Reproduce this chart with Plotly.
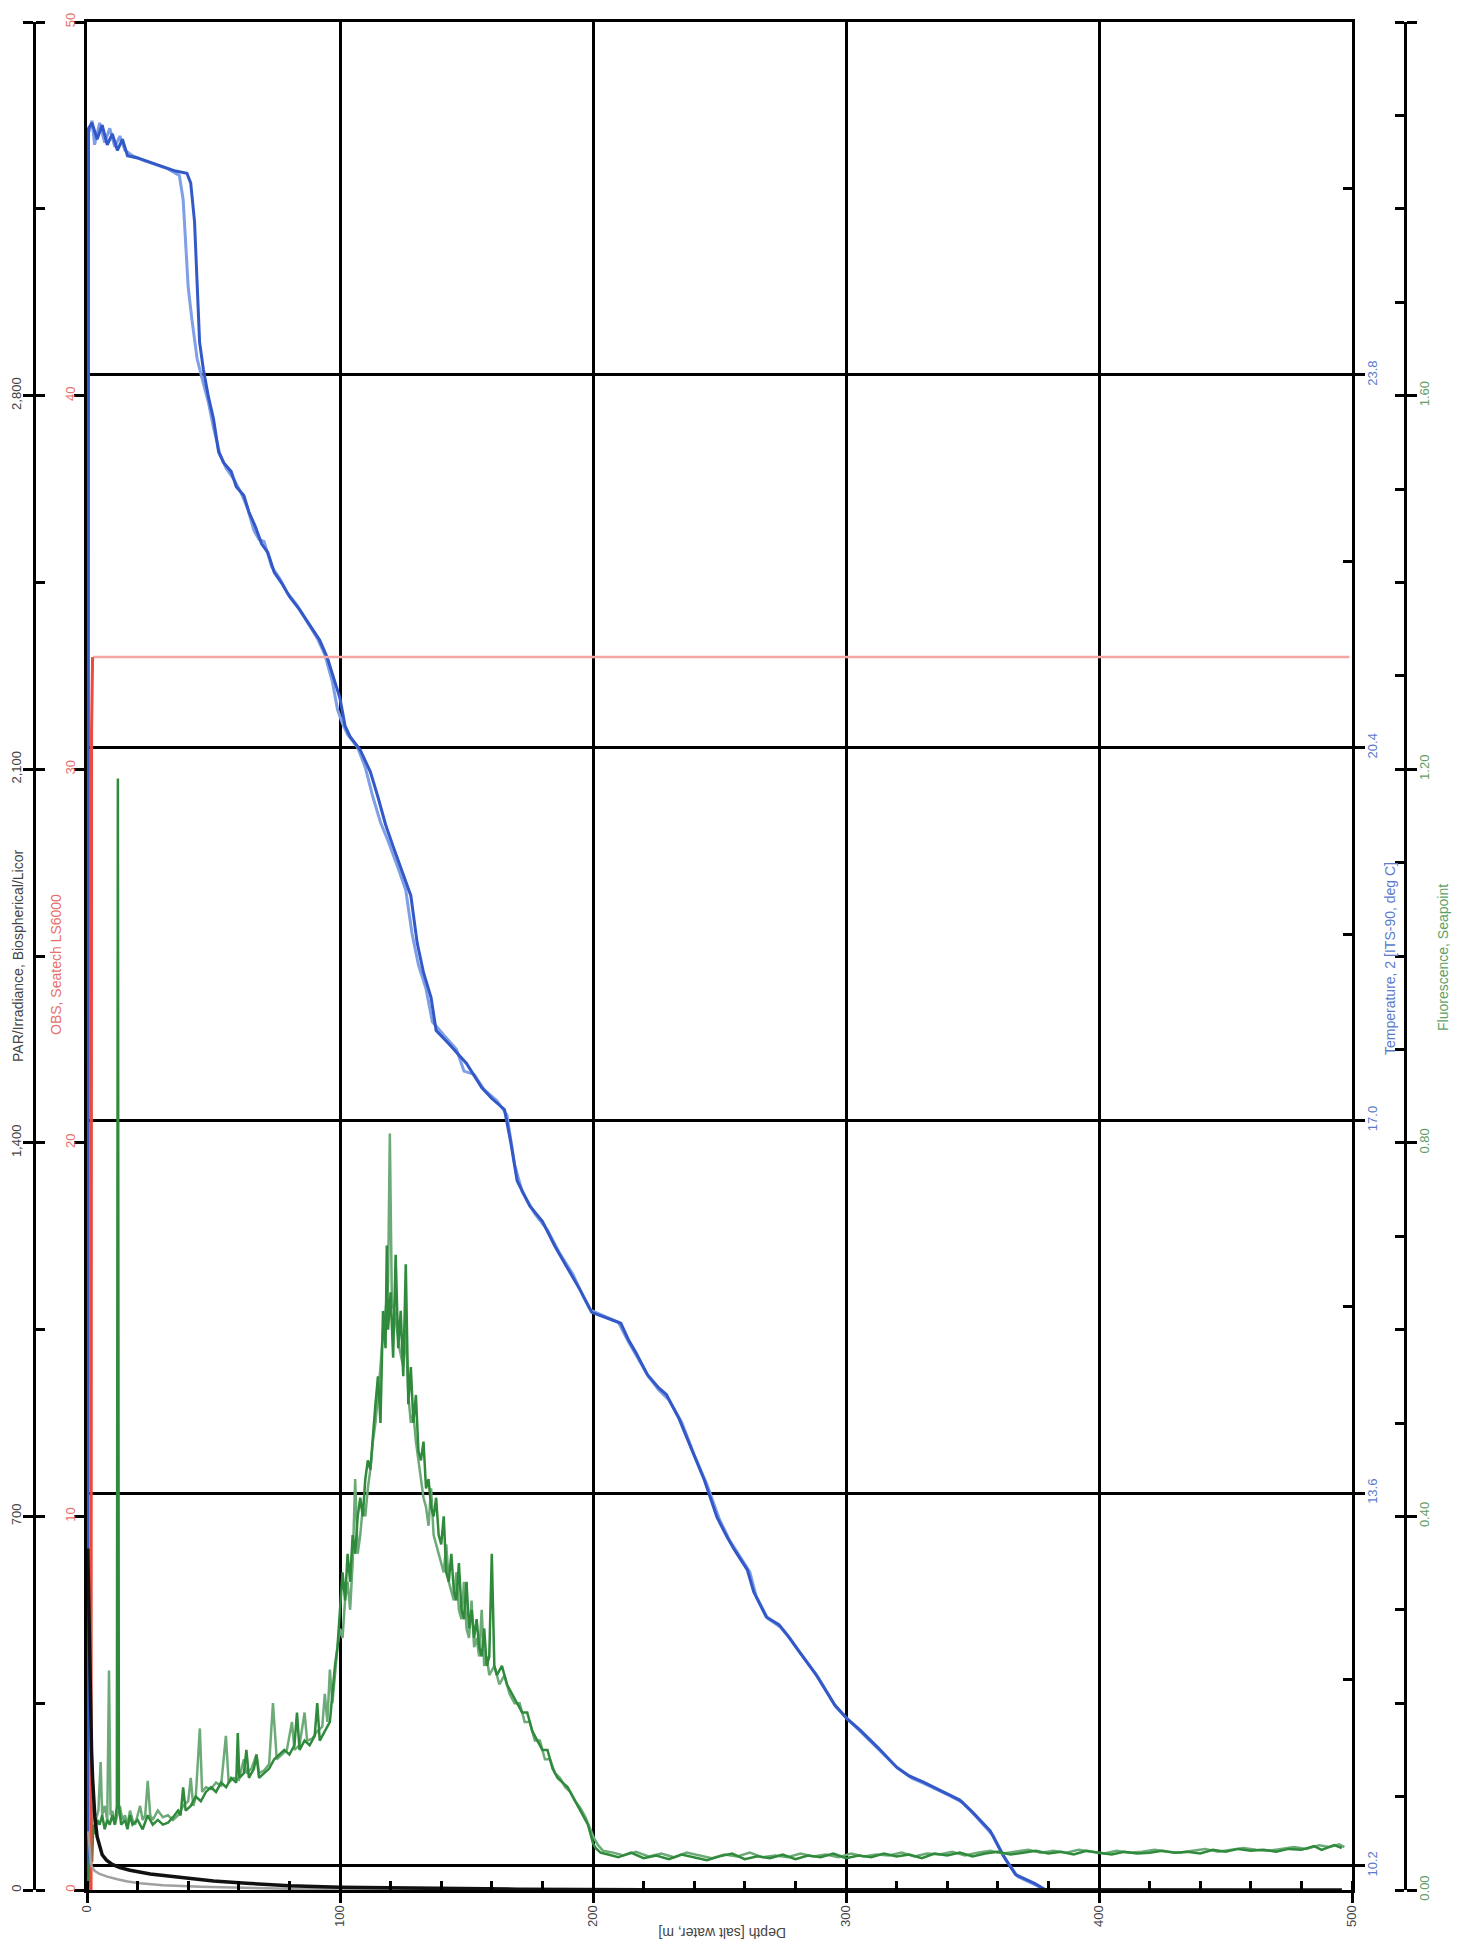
import plotly.graph_objects as go

# ---------------- DATA ----------------
depth_ticks = [0, 100, 200, 300, 400, 500]
temp_ticks = [10.2, 13.6, 17.0, 20.4, 23.8]
temp_minor = [11.9, 15.3, 18.7, 22.1, 25.5]
fluor_ticks = [0.0, 0.4, 0.8, 1.2, 1.6, 2.0]
obs_ticks = [0, 10, 20, 30, 40, 50]
par_ticks = [0, 700, 1400, 2100, 2800, 3500]

# Temperature, cast 1 (dark blue): (depth m, deg C)
temp1 = [(0.4, 9.9), (0.6, 26.05), (2, 26.1), (4, 25.95), (6, 26.08), (8, 25.9), (10, 26.0),
         (12, 25.85), (14, 25.95), (16, 25.8), (20, 25.78), (25, 25.74), (30, 25.7), (35, 25.66),
         (39.5, 25.64), (41, 25.55), (42.5, 25.2), (43.5, 24.6), (44.5, 24.1), (46, 23.85),
         (48, 23.6), (50, 23.4), (52, 23.1), (54, 23.0), (57, 22.92), (59, 22.78), (62, 22.7),
         (64, 22.55), (66.5, 22.42), (69, 22.26), (71.5, 22.18), (74, 22.0), (77, 21.9),
         (80, 21.78), (84, 21.66), (88, 21.52), (92, 21.38), (95, 21.22), (97.5, 21.04),
         (100, 20.85), (102, 20.6), (104, 20.5), (108, 20.38), (112, 20.18), (115, 19.95),
         (118, 19.7), (121, 19.5), (125, 19.25), (128, 19.05), (130.5, 18.62), (133, 18.35),
         (136, 18.12), (138, 17.82), (143, 17.7), (150, 17.52), (156, 17.3), (160, 17.2),
         (165, 17.1), (167.5, 16.8), (170, 16.45), (175, 16.22), (180, 16.08), (185, 15.85),
         (190, 15.65), (195, 15.45), (199.5, 15.25), (205, 15.2), (211, 15.15), (214, 15.0),
         (217, 14.88), (221.5, 14.68), (226, 14.56), (229, 14.5), (234, 14.28), (239, 14.0),
         (244, 13.72), (249, 13.38), (253, 13.2), (256, 13.08), (261, 12.9), (263.5, 12.7),
         (268.5, 12.47), (273.5, 12.4), (277, 12.3), (281, 12.17), (288, 11.95), (295.5, 11.67),
         (300.5, 11.54), (305.5, 11.44), (313, 11.27), (320, 11.1), (325, 11.02), (330, 10.97),
         (340, 10.86), (345, 10.8), (350, 10.69), (357, 10.52), (362, 10.3), (367, 10.12),
         (374.5, 10.04), (379, 9.98), (385, 9.9), (390, 9.8)]

# Temperature, cast 2 (light blue)
temp2 = [(0.8, 26.02), (2, 26.12), (3, 25.9), (5, 26.1), (7, 25.92), (9, 26.05), (11, 25.88),
         (13, 25.98), (15, 25.85), (18, 25.8), (22, 25.76), (27, 25.72), (32, 25.68),
         (36.5, 25.62), (38, 25.4), (39, 25.0), (40, 24.6), (41.5, 24.3), (43.5, 23.95),
         (46, 23.72), (48, 23.55), (50, 23.32), (52.5, 23.08), (55, 22.95), (58, 22.85),
         (61, 22.72), (63.5, 22.58), (66, 22.38), (68, 22.3), (70, 22.28), (73, 22.05),
         (76, 21.95), (79, 21.82), (83, 21.7), (87, 21.55), (91, 21.4), (94, 21.25), (97, 21.0),
         (99, 20.75), (101, 20.62), (103, 20.52), (107, 20.4), (110, 20.22), (113, 19.95),
         (116, 19.72), (119, 19.55), (123, 19.3), (126, 19.1), (128.5, 18.7), (131, 18.42),
         (134, 18.2), (136.5, 17.9), (141, 17.78), (146, 17.65), (149, 17.45), (153, 17.42),
         (157, 17.28), (162, 17.18), (166, 17.05), (169, 16.6), (172, 16.35), (177, 16.15),
         (182, 16.0), (187, 15.78), (192, 15.6), (196, 15.4), (199, 15.27), (204, 15.22),
         (210, 15.16), (214, 14.98), (218, 14.82), (222, 14.66), (226, 14.54), (230, 14.45),
         (235, 14.25), (240, 13.95), (245, 13.68), (250, 13.36), (254, 13.17), (257, 13.06),
         (262, 12.88), (264.5, 12.66), (269, 12.46), (274, 12.38), (278, 12.27), (282, 12.14),
         (289, 11.92), (296, 11.65), (301, 11.53), (306, 11.42), (313.5, 11.25), (320.5, 11.09),
         (326, 11.0), (331, 10.95), (341, 10.84), (346, 10.78), (351, 10.66), (358, 10.48),
         (363, 10.26), (368, 10.1), (375.5, 10.02), (381, 9.95), (390, 9.8)]

# Fluorescence, cast 1 (dark green)
fluor1 = [(0.5, 0.0), (1.0, 0.02), (1.5, 0.05), (2.0, 0.03), (2.5, 0.07), (3.0, 0.06), (4.0, 0.075),
          (5.0, 0.07), (6.0, 0.08), (7.0, 0.065), (8.0, 0.075), (9.0, 0.07), (10.0, 0.08),
          (11.0, 0.07), (11.8, 0.09), (12.2, 1.19), (12.6, 0.09), (13.5, 0.07), (15, 0.075),
          (16, 0.065), (17, 0.08), (18, 0.07), (20, 0.075), (22, 0.065), (24, 0.08), (26, 0.07),
          (28, 0.075), (30, 0.07), (32, 0.072), (34, 0.078), (36, 0.085), (37, 0.08), (38, 0.11),
          (39, 0.085), (41, 0.09), (43, 0.10), (45, 0.095), (47, 0.105), (49, 0.11), (51, 0.105),
          (53, 0.115), (55, 0.11), (57, 0.12), (59, 0.115), (59.6, 0.168), (60.2, 0.12),
          (62, 0.125), (63, 0.15), (64, 0.12), (66, 0.13), (67, 0.145), (68, 0.12), (70, 0.125),
          (72, 0.13), (74, 0.14), (76, 0.145), (78, 0.15), (80, 0.145), (82, 0.155), (83, 0.19),
          (84, 0.15), (86, 0.16), (88, 0.155), (90, 0.165), (91, 0.2), (92, 0.16), (94, 0.17),
          (96, 0.18), (97, 0.21), (98, 0.24), (99, 0.26), (100, 0.30), (101, 0.34), (102, 0.31),
          (103, 0.36), (104, 0.33), (105, 0.38), (106, 0.36), (107, 0.40), (108, 0.42),
          (109, 0.40), (110, 0.44), (111, 0.46), (112, 0.45), (113, 0.49), (114, 0.52),
          (115, 0.55), (116, 0.50), (117, 0.62), (118, 0.58), (118.5, 0.69), (119, 0.6),
          (120, 0.64), (121, 0.57), (122, 0.68), (123, 0.58), (124, 0.62), (125, 0.55),
          (126, 0.67), (127, 0.52), (128, 0.56), (129, 0.5), (130, 0.53), (131, 0.47),
          (132, 0.46), (133, 0.48), (134, 0.43), (135, 0.44), (136, 0.41), (137, 0.40),
          (138, 0.42), (139, 0.38), (140, 0.37), (141, 0.40), (142, 0.34), (143, 0.33),
          (144, 0.36), (145, 0.32), (146, 0.31), (147, 0.35), (148, 0.30), (149, 0.29),
          (150, 0.33), (151, 0.28), (152, 0.30), (153, 0.27), (154, 0.29), (155, 0.26),
          (156, 0.25), (157, 0.28), (158, 0.24), (159, 0.25), (160, 0.36), (161, 0.24),
          (162, 0.23), (164, 0.24), (166, 0.22), (168, 0.21), (170, 0.20), (172, 0.19),
          (174, 0.19), (176, 0.17), (178, 0.16), (180, 0.15), (182, 0.15), (184, 0.13),
          (186, 0.12), (188, 0.115), (190, 0.11), (192, 0.10), (194, 0.09), (196, 0.08),
          (198, 0.07), (199, 0.06), (200, 0.05), (201, 0.045), (203, 0.04), (206, 0.038),
          (210, 0.035), (215, 0.04), (220, 0.034), (225, 0.037), (230, 0.033), (235, 0.038),
          (240, 0.035), (245, 0.032), (250, 0.036), (255, 0.039), (260, 0.033), (265, 0.036),
          (270, 0.034), (275, 0.038), (280, 0.033), (285, 0.037), (290, 0.035), (295, 0.039),
          (300, 0.034), (305, 0.037), (310, 0.035), (315, 0.039), (320, 0.036), (325, 0.038),
          (330, 0.034), (335, 0.039), (340, 0.037), (345, 0.04), (350, 0.036), (355, 0.039),
          (360, 0.041), (365, 0.038), (370, 0.04), (375, 0.042), (380, 0.039), (385, 0.041),
          (390, 0.038), (395, 0.042), (400, 0.04), (405, 0.038), (410, 0.041), (415, 0.039),
          (420, 0.04), (425, 0.042), (430, 0.04), (435, 0.041), (440, 0.039), (445, 0.043),
          (450, 0.041), (455, 0.044), (460, 0.042), (465, 0.043), (470, 0.041), (475, 0.044),
          (480, 0.043), (485, 0.047), (488, 0.043), (490, 0.045), (493, 0.048), (496, 0.045)]

# Fluorescence, cast 2 (light green)
fluor2 = [(0.8, 0.01), (1.5, 0.04), (2.5, 0.09), (3.5, 0.075), (4.5, 0.085), (5.4, 0.137), (6, 0.08),
          (7, 0.09), (8, 0.075), (8.7, 0.235), (9.3, 0.08), (10, 0.085), (11, 0.07), (12, 0.08),
          (13, 0.09), (14, 0.075), (15, 0.08), (16, 0.07), (17, 0.085), (18, 0.075), (19, 0.07),
          (20, 0.08), (21, 0.09), (22, 0.075), (23, 0.08), (24, 0.117), (25, 0.08), (26, 0.075),
          (28, 0.085), (30, 0.078), (32, 0.08), (34, 0.075), (36, 0.08), (38, 0.09), (40, 0.095),
          (41, 0.12), (42, 0.09), (43, 0.1), (44.6, 0.173), (45.5, 0.105), (47, 0.11),
          (49, 0.108), (51, 0.115), (53, 0.112), (54.9, 0.165), (56, 0.115), (58, 0.12),
          (60, 0.118), (62, 0.14), (63, 0.125), (65, 0.13), (67, 0.145), (68, 0.125),
          (70, 0.128), (72, 0.135), (73.5, 0.2), (75, 0.14), (77, 0.145), (79, 0.15), (81, 0.18),
          (82, 0.15), (84, 0.155), (86, 0.19), (87, 0.16), (89, 0.162), (91, 0.17), (93, 0.175),
          (94, 0.21), (95, 0.18), (96, 0.236), (97, 0.2), (98, 0.23), (99, 0.26), (100, 0.28),
          (101, 0.27), (102, 0.31), (103, 0.33), (104, 0.3), (105, 0.35), (106, 0.44),
          (107, 0.36), (108, 0.38), (109, 0.41), (110, 0.4), (111, 0.43), (112, 0.45),
          (113, 0.48), (114, 0.5), (115, 0.53), (116, 0.56), (117, 0.6), (118, 0.62),
          (119, 0.65), (119.7, 0.81), (120.5, 0.63), (121.5, 0.62), (122.5, 0.6), (123.5, 0.58),
          (125, 0.56), (126, 0.6), (127, 0.53), (128, 0.5), (129, 0.51), (130, 0.48),
          (131, 0.46), (132, 0.44), (133, 0.42), (134, 0.41), (135, 0.39), (136, 0.43),
          (137, 0.38), (138, 0.37), (139, 0.36), (140, 0.35), (141, 0.34), (142, 0.37),
          (143, 0.33), (144, 0.32), (145, 0.31), (146, 0.34), (147, 0.3), (148, 0.29),
          (149, 0.33), (150, 0.28), (151, 0.27), (152, 0.31), (153, 0.26), (154, 0.27),
          (155, 0.25), (156, 0.3), (157, 0.24), (158, 0.25), (159, 0.23), (161, 0.24),
          (163, 0.22), (165, 0.23), (167, 0.21), (169, 0.2), (171, 0.2), (173, 0.18),
          (175, 0.18), (177, 0.16), (179, 0.16), (181, 0.14), (183, 0.14), (185, 0.125),
          (187, 0.12), (189, 0.11), (191, 0.105), (193, 0.095), (195, 0.088), (197, 0.078),
          (199, 0.065), (200.5, 0.055), (202, 0.048), (204, 0.042), (208, 0.04), (212, 0.037),
          (217, 0.041), (222, 0.036), (227, 0.039), (232, 0.035), (237, 0.04), (242, 0.037),
          (247, 0.034), (252, 0.038), (257, 0.036), (262, 0.04), (267, 0.035), (272, 0.037),
          (277, 0.035), (282, 0.039), (287, 0.036), (292, 0.038), (297, 0.035), (302, 0.039),
          (307, 0.036), (312, 0.038), (317, 0.037), (322, 0.04), (327, 0.036), (332, 0.039),
          (337, 0.038), (342, 0.041), (347, 0.037), (352, 0.04), (357, 0.042), (362, 0.039),
          (367, 0.041), (372, 0.043), (377, 0.04), (382, 0.042), (387, 0.04), (392, 0.043),
          (397, 0.041), (402, 0.039), (407, 0.042), (412, 0.04), (417, 0.041), (422, 0.043),
          (427, 0.041), (432, 0.04), (437, 0.042), (442, 0.044), (447, 0.041), (452, 0.043),
          (457, 0.045), (462, 0.043), (467, 0.042), (472, 0.044), (477, 0.046), (482, 0.044),
          (487, 0.048), (491, 0.046), (495, 0.049), (497, 0.046)]

# PAR / Irradiance (black, and second grey record)
par1 = [(0.3, 640), (0.6, 560), (0.9, 450), (1.2, 400), (1.5, 320), (1.8, 262), (2.2, 210),
        (2.6, 170), (3.1, 137), (4, 100), (5, 80), (6, 66), (7.7, 56), (10, 48), (13, 42),
        (17, 37), (25, 30), (36.7, 24), (50, 17), (63, 12.6), (80, 8), (100, 5), (130, 3),
        (170, 1.5), (220, 0.7), (300, 0.3), (400, 0.1), (496, 0.05)]
par2 = [(0.5, 110), (1, 70), (1.5, 50), (2, 43), (3, 36), (5, 30), (8, 25), (12, 20), (16, 16),
        (21, 12.6), (30, 9), (45, 6), (60, 4), (80, 2.5), (100, 1.5), (130, 0.8), (170, 0.3),
        (220, 0.1)]

# OBS (red rise near surface, pink constant record)
obs1 = [(1.6, 0.0), (1.8, 31.0), (2.2, 33.0)]
obs2 = [(2.4, 33.0), (50, 33.0), (100, 33.0), (200, 33.0), (300, 33.0), (400, 33.0), (499, 33.0)]

# ---------------- STYLE / LAYOUT ----------------
PAGE_W, PAGE_H = 1470, 1953
OFF = 8                       # default page margin around the figure
W, H = PAGE_W - OFF, PAGE_H - OFF


def px_x(p):
    return (p - OFF) / W


def px_y(p):
    return 1 - (p - OFF) / H


X0, X1 = px_x(87), px_x(1352)
Y0, Y1 = px_y(1890), px_y(22)
PAR_POS = px_x(34)
FLU_POS = px_x(1405)

BLUE_D, BLUE_L = "#3358c8", "#7f9fe6"
GREEN_D, GREEN_L = "#2f8a3b", "#6cab78"
RED, PINK = "#ec4a3c", "#f5a6a2"
BLUE_T, GREEN_T, RED_T = "#5a7bcc", "#5f9e64", "#e8706a"
FONT = "Arial, Liberation Sans, sans-serif"


def cols(pairs):
    return [p[0] for p in pairs], [p[1] for p in pairs]


fig = go.Figure()


def add(pairs, axis, color, width):
    x, y = cols(pairs)
    fig.add_trace(go.Scatter(x=x, y=y, yaxis=axis, mode="lines",
                             line=dict(color=color, width=width), showlegend=False,
                             hoverinfo="skip"))


add(obs2, "y3", PINK, 2.5)
add(obs1, "y3", RED, 3)
add(par2, "y4", "#a0a0a0", 2.5)
add(par1, "y4", "#111111", 3.5)
add(fluor2, "y2", GREEN_L, 2.5)
add(fluor1, "y2", GREEN_D, 2.5)
add(temp2, "y", BLUE_L, 3)
add(temp1, "y", BLUE_D, 3)

tick_common = dict(showline=True, linecolor="black", linewidth=3, ticks="outside",
                   ticklen=10, tickwidth=3, tickcolor="black", zeroline=False,
                   automargin=False, tickangle=-90)

fig.update_layout(
    width=W, height=H, margin=dict(l=0, r=0, t=0, b=0),
    paper_bgcolor="white", plot_bgcolor="white",
    font=dict(family=FONT, size=13, color="#333"),
    xaxis=dict(domain=[X0, X1], range=[0, 500], anchor="y", mirror=True,
               tickvals=depth_ticks, tickfont=dict(size=13, color="#444"),
               ticklabelstandoff=-3,
               showgrid=True, gridcolor="black", gridwidth=2.5,
               minor=dict(tickmode="linear", tick0=0, dtick=20, ticks="inside", ticklen=9,
                          tickwidth=2.5, tickcolor="black", showgrid=False),
               **tick_common),
    yaxis=dict(domain=[Y0, Y1], range=[9.98, 27.02], side="right", anchor="x", mirror=True,
               tickvals=temp_ticks, ticktext=[f"{v:.1f}" for v in temp_ticks],
               tickfont=dict(size=13, color=BLUE_T), ticklabelstandoff=-4,
               showgrid=True, gridcolor="black", gridwidth=2.5,
               minor=dict(tickvals=temp_minor, ticks="inside", ticklen=9, tickwidth=2.5,
                          tickcolor="black", showgrid=False),
               **tick_common),
    yaxis2=dict(overlaying="y", side="right", anchor="free", position=FLU_POS,
                range=[0, 2], tickvals=fluor_ticks, tickformat=".2f",
                tickfont=dict(size=13, color=GREEN_T), ticklabelstandoff=-4, showgrid=False,
                minor=dict(tickmode="linear", tick0=0, dtick=0.1, ticks="inside", ticklen=9,
                           tickwidth=2.5, tickcolor="black", showgrid=False),
                **tick_common),
    yaxis3=dict(overlaying="y", side="left", anchor="x", range=[0, 50], tickvals=obs_ticks,
                tickfont=dict(size=13, color=RED_T), ticklabelstandoff=-6, showgrid=False,
                **tick_common),
    yaxis4=dict(overlaying="y", side="left", anchor="free", position=PAR_POS,
                range=[0, 3500], tickvals=par_ticks, tickformat=",d",
                tickfont=dict(size=13, color="#444"), ticklabelstandoff=-3, showgrid=False,
                minor=dict(tickmode="linear", tick0=0, dtick=350, ticks="inside", ticklen=9,
                           tickwidth=2.5, tickcolor="black", showgrid=False),
                **tick_common),
)

titles = [
    ("Depth [salt water, m]", 722, 1933, 180, "#444"),
    ("PAR/Irradiance, Biospherical/Licor", 18, 956, -90, "#444"),
    ("OBS, Seatech LS6000", 56, 965, -90, RED_T),
    ("Temperature, 2 [ITS-90, deg C]", 1390, 959, -90, BLUE_T),
    ("Fluorescence, Seapoint", 1443, 958, -90, GREEN_T),
]
for text, px, py, ang, col in titles:
    fig.add_annotation(text=text, x=px_x(px), y=px_y(py), xref="paper", yref="paper",
                       textangle=ang, showarrow=False, xanchor="center", yanchor="middle",
                       font=dict(family=FONT, size=14, color=col))

fig.write_html("out.html")
